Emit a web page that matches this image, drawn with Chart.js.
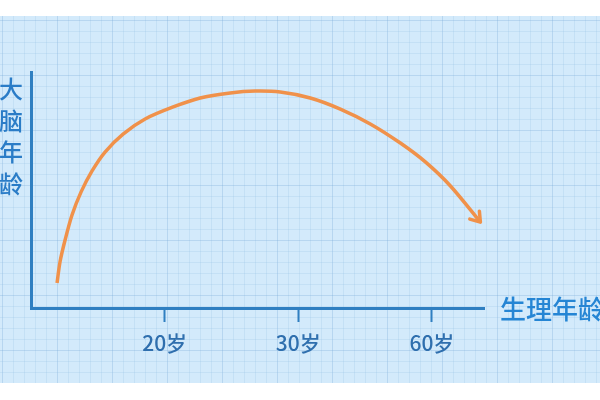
<!DOCTYPE html>
<html>
<head>
<meta charset="utf-8">
<title>大脑年龄</title>
<script src="https://cdn.jsdelivr.net/npm/chart.js@4.4.1/dist/chart.umd.min.js"></script>
<style>
  body { margin: 0; background: #fff; }
  canvas { display: block; }
</style>
</head>
<body>
<canvas id="brain-chart" width="600" height="400"></canvas>
<script>
// curve: x in tick units (20岁 = 1, 30岁 = 2, 60岁 = 3), y is relative brain age 0..10
const curveX = [0.195, 0.217, 0.255, 0.307, 0.375, 0.457, 0.554, 0.689, 0.854, 1.064, 1.266,
                1.491, 1.678, 1.865, 2.090, 2.315, 2.539, 2.764, 2.951, 3.139, 3.363];
const curveY = [1.06, 1.95, 2.88, 3.94, 4.92, 5.81, 6.61, 7.37, 8.01, 8.52, 8.90,
                9.11, 9.19, 9.15, 8.90, 8.43, 7.80, 6.99, 6.19, 5.17, 3.64];
const tickValues = [1, 2, 3];
const tickLabels = ['20岁', '30岁', '60岁'];
const yTitle = ['大', '脑', '年', '龄'];
const xTitle = '生理年龄';

const axisBlue = '#2f7fc1';
const orange = '#f0914a';
const font = '"Noto Sans CJK SC", "Noto Sans", sans-serif';

const points = curveX.map((x, i) => ({ x: x, y: curveY[i] }));

// light blue paper with grid behind everything
const paper = {
    id: 'paper',
    beforeDraw(chart) {
        const ctx = chart.ctx;
        const w = chart.width, h = chart.height;
        ctx.save();
        ctx.fillStyle = '#ffffff';
        ctx.fillRect(0, 0, w, h);
        const top = 16, bottom = 383;
        ctx.fillStyle = '#d3eafb';
        ctx.fillRect(0, top, w, bottom - top);
        const step = 11;
        let n = 0;
        for (let x = 2; x < w; x += step, n++) {
            ctx.strokeStyle = n % 5 === 0 ? 'rgba(120,170,215,0.3)' : 'rgba(140,185,225,0.2)';
            ctx.lineWidth = 1;
            ctx.beginPath();
            ctx.moveTo(x + 0.5, top);
            ctx.lineTo(x + 0.5, bottom);
            ctx.stroke();
        }
        n = 0;
        for (let y = top + 4; y < bottom; y += step, n++) {
            ctx.strokeStyle = n % 5 === 0 ? 'rgba(120,170,215,0.3)' : 'rgba(140,185,225,0.2)';
            ctx.beginPath();
            ctx.moveTo(0, y + 0.5);
            ctx.lineTo(w, y + 0.5);
            ctx.stroke();
        }
        ctx.restore();
    }
};

// arrow head at the end of the curve and the two axis names
const extras = {
    id: 'extras',
    afterDatasetsDraw(chart) {
        const meta = chart.getDatasetMeta(0);
        const last = meta.data[meta.data.length - 1];
        const prev = meta.data[meta.data.length - 2];
        const ctx = chart.ctx;
        let dx = last.x - (last.cp1x !== undefined ? last.cp1x : prev.x);
        let dy = last.y - (last.cp1y !== undefined ? last.cp1y : prev.y);
        const ang = Math.atan2(dy, dx);
        const len = 11;
        ctx.save();
        ctx.strokeStyle = orange;
        ctx.lineWidth = 3.5;
        ctx.lineCap = 'round';
        ctx.lineJoin = 'round';
        ctx.beginPath();
        ctx.moveTo(last.x - len * Math.cos(ang - 0.6), last.y - len * Math.sin(ang - 0.6));
        ctx.lineTo(last.x, last.y);
        ctx.lineTo(last.x - len * Math.cos(ang + 0.6), last.y - len * Math.sin(ang + 0.6));
        ctx.stroke();
        ctx.restore();
    },
    afterDraw(chart) {
        const ctx = chart.ctx;
        const area = chart.chartArea;
        ctx.save();
        ctx.fillStyle = '#2a7cc7';
        ctx.font = '500 24px ' + font;
        ctx.textAlign = 'center';
        ctx.textBaseline = 'middle';
        yTitle.forEach((c, i) => ctx.fillText(c, 11, 89 + i * 31.5));
        ctx.fillStyle = '#2585d4';
        ctx.font = '500 26px ' + font;
        ctx.textAlign = 'left';
        ctx.fillText(xTitle, area.right + 16, area.bottom + 1);
        ctx.restore();
    }
};

new Chart(document.getElementById('brain-chart'), {
    type: 'line',
    data: {
        datasets: [{
            data: points,
            borderColor: orange,
            borderWidth: 3.5,
            pointRadius: 0,
            fill: false,
            tension: 0.3
        }]
    },
    options: {
        responsive: false,
        animation: false,
        layout: { padding: { top: 72, right: 116, left: 0, bottom: 0 } },
        plugins: {
            legend: { display: false },
            tooltip: { enabled: false }
        },
        scales: {
            x: {
                type: 'linear',
                min: 0,
                max: 3.39,
                afterBuildTicks(scale) {
                    scale.ticks = tickValues.map(v => ({ value: v }));
                },
                afterFit(scale) { scale.height = 92; },
                grid: {
                    drawOnChartArea: false,
                    drawTicks: true,
                    tickLength: 14,
                    tickWidth: 2,
                    color: axisBlue
                },
                border: { color: axisBlue, width: 3 },
                ticks: {
                    padding: 8,
                    color: '#2f6fae',
                    font: { family: font, size: 21, weight: '500' },
                    maxRotation: 0,
                    callback: (v) => tickLabels[tickValues.indexOf(v)]
                }
            },
            y: {
                min: 0,
                max: 10,
                afterFit(scale) { scale.width = 31; },
                grid: { display: false },
                border: { color: axisBlue, width: 3 },
                ticks: { display: false }
            }
        }
    },
    plugins: [paper, extras]
});
</script>
</body>
</html>
